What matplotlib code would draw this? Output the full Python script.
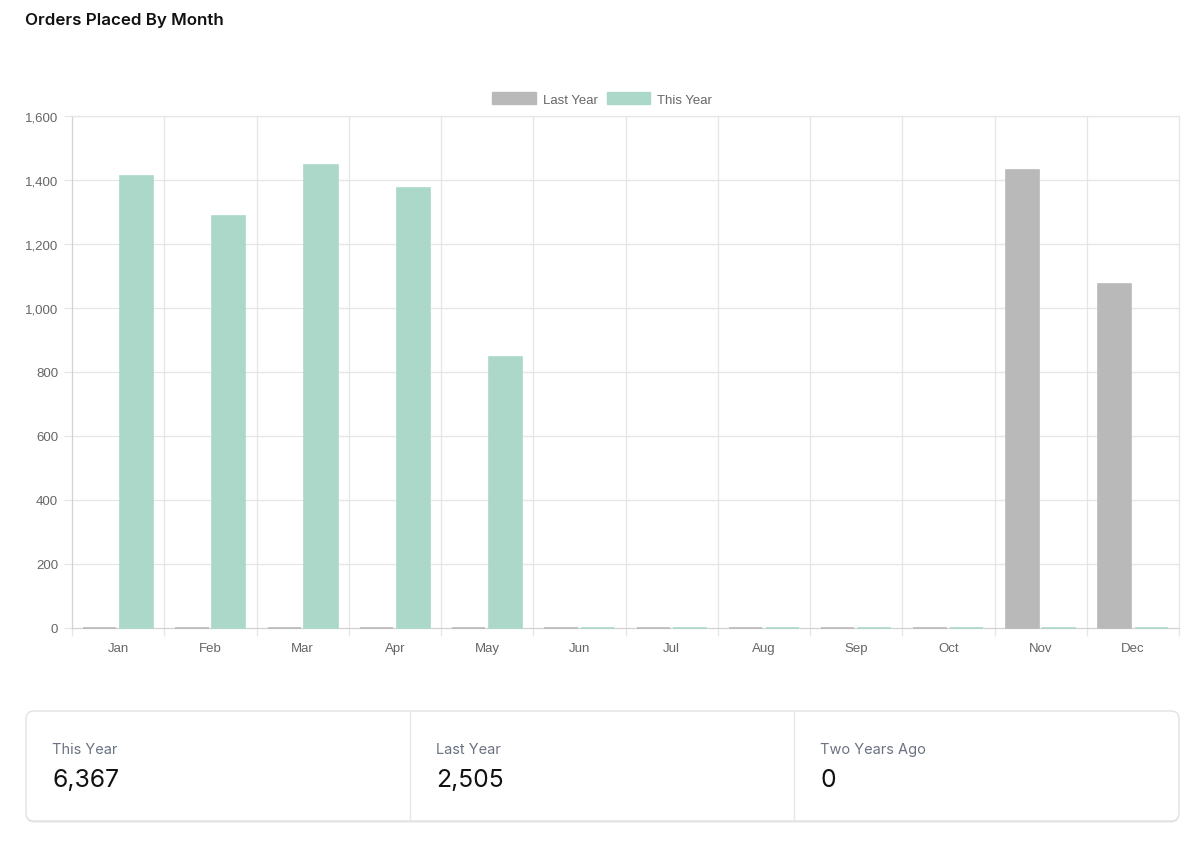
import matplotlib
matplotlib.use("Agg")
import matplotlib.pyplot as plt
import numpy as np
from matplotlib.patches import FancyBboxPatch, Patch
from matplotlib.ticker import FuncFormatter, MultipleLocator

months = ["Jan", "Feb", "Mar", "Apr", "May", "Jun", "Jul", "Aug", "Sep", "Oct", "Nov", "Dec"]
last_year = [0, 0, 0, 0, 0, 0, 0, 0, 0, 0, 1431, 1074]
this_year = [1411, 1288, 1446, 1374, 848, 0, 0, 0, 0, 0, 0, 0]
stat_labels = ["This Year", "Last Year", "Two Years Ago"]
stat_values = [6367, 2505, 0]

c_last = "#b9b9b9"
c_this = "#acd8c9"
grid_c = "#e6e6e6"
tick_c = "#666666"

plt.rcParams['font.family'] = ['Liberation Sans', 'DejaVu Sans']

W, H = 1200, 845
fig = plt.figure(figsize=(12, 8.45), dpi=100)
fig.patch.set_facecolor("white")

# Title
fig.text(25 / W, 1 - 20 / H, "Orders Placed By Month", family=['Inter', 'DejaVu Sans'],
         fontsize=12.2, fontweight='semibold', color="#111111", va='center', ha='left')

ax = fig.add_axes([72 / W, 1 - 629 / H, (1179 - 72) / W, 512 / H])
x = np.arange(len(months))
bw = 0.36
b1 = ax.bar(x - 0.2, last_year, width=bw, color=c_last, edgecolor=c_last, linewidth=1.2,
            label="Last Year", zorder=4)
b2 = ax.bar(x + 0.2, this_year, width=bw, color=c_this, edgecolor=c_this, linewidth=1.2,
            label="This Year", zorder=4)
for r in list(b1) + list(b2):
    r.set_clip_on(False)

ax.set_xlim(-0.5, len(months) - 0.5)
ax.set_ylim(0, 1600)
ax.yaxis.set_major_locator(MultipleLocator(200))
ax.yaxis.set_major_formatter(FuncFormatter(lambda v, p: f"{int(v):,}"))
ax.set_xticks(x)
ax.set_xticklabels(months)
ax.set_xticks(np.arange(-0.5, len(months), 1.0), minor=True)

ax.grid(False)
for v in np.arange(200, 1601, 200):
    ax.axhline(v, color=grid_c, lw=0.9, zorder=0)
for b in np.arange(0.5, len(months), 1.0):
    ax.axvline(b, color=grid_c, lw=0.9, zorder=0)

for s in ["top", "right"]:
    ax.spines[s].set_color(grid_c)
    ax.spines[s].set_linewidth(0.9)
for s in ["left", "bottom"]:
    ax.spines[s].set_color("#d2d2d2")
    ax.spines[s].set_linewidth(0.9)

ax.tick_params(axis='x', which='major', length=0, pad=10, labelsize=9.5, labelcolor=tick_c)
ax.tick_params(axis='x', which='minor', length=6, width=0.9, color=grid_c)
ax.tick_params(axis='y', which='major', length=6, width=0.9, color=grid_c, pad=4,
               labelsize=9.5, labelcolor=tick_c)

handles = [Patch(facecolor=c_last, edgecolor=c_last), Patch(facecolor=c_this, edgecolor=c_this)]
fig.legend(handles, ["Last Year", "This Year"], loc='center', bbox_to_anchor=(602 / W, 1 - 100 / H),
           ncol=2, frameon=False, fontsize=9.5, labelcolor=tick_c, handlelength=3.3,
           handleheight=0.95, handletextpad=0.5, columnspacing=0.7)

# Stat box
bx = fig.add_axes([22 / W, 1 - 826 / H, 1161 / W, 118 / H])
bx.set_xlim(-4, 1157)
bx.set_ylim(-4, 114)
bx.axis('off')
shadow = FancyBboxPatch((0, -1.5), 1153, 110, boxstyle="round,pad=0,rounding_size=8",
                        facecolor="#e4e4e4", edgecolor="none", zorder=1)
box = FancyBboxPatch((0, 0), 1153, 110, boxstyle="round,pad=0,rounding_size=8",
                     facecolor="white", edgecolor="#e2e2e2", linewidth=1, zorder=2)
bx.add_patch(shadow)
bx.add_patch(box)
for i in (1, 2):
    bx.plot([384 * i, 384 * i], [0, 110], color="#e6e6e6", lw=1, zorder=3)
for i, (lab, val) in enumerate(zip(stat_labels, stat_values)):
    x0 = 26 + 384 * i
    bx.text(x0, 72, lab, family=['Inter', 'DejaVu Sans'], fontsize=10.5, color="#6b7280",
            va='center', ha='left', zorder=4)
    bx.text(x0, 41, f"{val:,}", family=['Inter', 'DejaVu Sans'], fontsize=17.8, color="#111111",
            va='center', ha='left', zorder=4)

fig.savefig("out.png", dpi=100, facecolor="white")
